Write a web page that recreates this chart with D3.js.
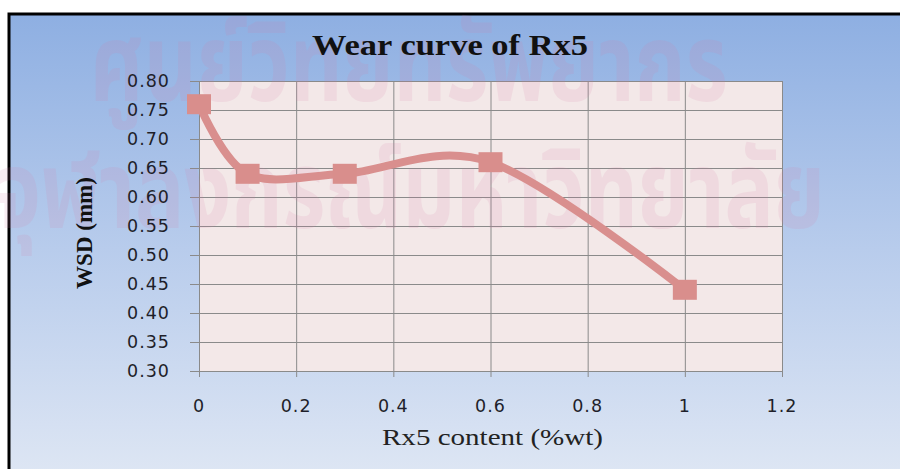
<!DOCTYPE html>
<html>
<head>
<meta charset="utf-8">
<script src="https://cdn.jsdelivr.net/npm/d3@7"></script>
<style>
  body { margin: 0; background: #fff; }
  svg { display: block; }
</style>
</head>
<body>
<div id="chart"></div>
<script>
// data
var rx5Content = [0, 0.1, 0.3, 0.6, 1];
var wsd = [0.76, 0.64, 0.64, 0.66, 0.44];
var xTicks = [0, 0.2, 0.4, 0.6, 0.8, 1, 1.2];
var yTicks = [0.30, 0.35, 0.40, 0.45, 0.50, 0.55, 0.60, 0.65, 0.70, 0.75, 0.80];
var watermark = ["ศูนย์วิทยทรัพยากร", "จุฬาลงกรณ์มหาวิทยาลัย"];

var width = 900,
    height = 469;
var plot = { left: 199, right: 782, top: 81, bottom: 371 };

var svg = d3.select("#chart").append("svg")
    .attr("width", width)
    .attr("height", height);

var defs = svg.append("defs");
var grad = defs.append("linearGradient")
    .attr("id", "bg")
    .attr("x1", 0).attr("y1", 0).attr("x2", 0).attr("y2", 1);
grad.append("stop").attr("offset", "0%").attr("stop-color", "#8eafe2");
grad.append("stop").attr("offset", "50%").attr("stop-color", "#b8ccec");
grad.append("stop").attr("offset", "100%").attr("stop-color", "#dfe7f4");

// chart area with black frame
svg.append("rect")
    .attr("x", 9).attr("y", 14)
    .attr("width", 900).attr("height", 470)
    .attr("fill", "url(#bg)")
    .attr("stroke", "#000")
    .attr("stroke-width", 3);

var x = d3.scaleLinear().domain([0, 1.2]).range([plot.left, plot.right]);
var y = d3.scaleLinear().domain([0.30, 0.80]).range([plot.bottom, plot.top]);

// plot background
svg.append("rect")
    .attr("x", plot.left).attr("y", plot.top)
    .attr("width", plot.right - plot.left)
    .attr("height", plot.bottom - plot.top)
    .attr("fill", "#f3e8e8");

// gridlines
svg.append("g")
    .attr("transform", "translate(" + plot.left + ",0)")
    .call(d3.axisLeft(y).tickValues(yTicks).tickSize(9).tickFormat(""))
    .call(function(g) { g.select(".domain").remove(); })
    .selectAll("line")
    .attr("x2", plot.right - plot.left)
    .attr("x1", -9)
    .attr("stroke", "#8a8a8a");

svg.append("g")
    .attr("transform", "translate(0," + plot.bottom + ")")
    .call(d3.axisBottom(x).tickValues(xTicks).tickSize(6).tickFormat(""))
    .call(function(g) { g.select(".domain").remove(); })
    .selectAll("line")
    .attr("y1", -(plot.bottom - plot.top))
    .attr("y2", 6)
    .attr("stroke", "#8a8a8a");

// watermark
svg.append("g").selectAll("text")
    .data(watermark)
    .enter().append("text")
    .attr("x", function(d, i) { return i == 0 ? 90 : -5; })
    .attr("y", function(d, i) { return i == 0 ? 101 : 228; })
    .attr("textLength", function(d, i) { return i == 0 ? 638 : 830; })
    .attr("lengthAdjust", "spacingAndGlyphs")
    .style("font-family", "'Noto Sans Thai', 'Noto Sans', 'DejaVu Sans', sans-serif")
    .style("font-size", "108px")
    .style("font-weight", "bold")
    .attr("fill", "#d97aa6")
    .attr("opacity", 0.13)
    .text(function(d) { return d; });

// y tick labels
svg.append("g").selectAll("text")
    .data(yTicks)
    .enter().append("text")
    .attr("x", 170)
    .attr("y", function(d) { return y(d); })
    .attr("dy", "0.36em")
    .attr("text-anchor", "end")
    .style("font-family", "'DejaVu Sans', sans-serif")
    .style("font-size", "17.5px")
    .style("letter-spacing", "1px")
    .attr("fill", "#1f1f2a")
    .text(function(d) { return d.toFixed(2); });

// x tick labels
svg.append("g").selectAll("text")
    .data(xTicks)
    .enter().append("text")
    .attr("x", function(d) { return x(d); })
    .attr("y", 412)
    .attr("text-anchor", "middle")
    .style("font-family", "'DejaVu Sans', sans-serif")
    .style("font-size", "17.5px")
    .style("letter-spacing", "1px")
    .attr("fill", "#1f1f2a")
    .text(function(d) { return String(d); });

// the smoothed line and square markers
var line = d3.line()
    .x(function(d) { return x(d[0]); })
    .y(function(d) { return y(d[1]); })
    .curve(d3.curveCardinal.tension(0));

var points = d3.zip(rx5Content, wsd);

svg.append("path")
    .datum(points)
    .attr("d", line)
    .attr("fill", "none")
    .attr("stroke", "#d98f8e")
    .attr("stroke-width", 8)
    .attr("stroke-linejoin", "round");

svg.append("g").selectAll("rect")
    .data(points)
    .enter().append("rect")
    .attr("x", function(d) { return x(d[0]) - 12; })
    .attr("y", function(d) { return y(d[1]) - 10; })
    .attr("width", 24)
    .attr("height", 20)
    .attr("fill", "#d98e8c");

// titles
svg.append("text")
    .attr("x", 312)
    .attr("y", 55)
    .attr("textLength", 276)
    .attr("lengthAdjust", "spacingAndGlyphs")
    .style("font-family", "'Liberation Serif', 'Times New Roman', serif")
    .style("font-weight", "bold")
    .style("font-size", "29px")
    .attr("fill", "#111")
    .text("Wear curve of Rx5");

svg.append("text")
    .attr("transform", "translate(92,233) rotate(-90)")
    .attr("text-anchor", "middle")
    .style("font-family", "'Liberation Serif', 'Times New Roman', serif")
    .style("font-weight", "bold")
    .style("font-size", "23px")
    .attr("fill", "#111")
    .text("WSD (mm)");

svg.append("text")
    .attr("x", 382)
    .attr("y", 445)
    .attr("textLength", 221)
    .attr("lengthAdjust", "spacingAndGlyphs")
    .style("font-family", "'Liberation Serif', 'Times New Roman', serif")
    .style("font-size", "24px")
    .attr("fill", "#222")
    .text("Rx5 content (%wt)");
</script>
</body>
</html>
